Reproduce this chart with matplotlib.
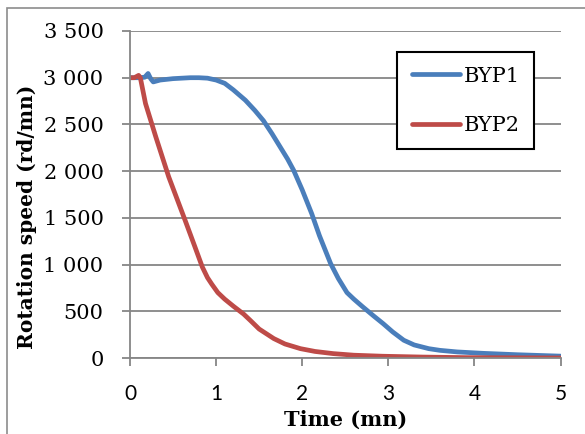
import matplotlib
matplotlib.use("Agg")
import matplotlib.pyplot as plt
from matplotlib.patches import Rectangle

# Data
t_byp1 = [0, 0.1, 0.17, 0.21, 0.24, 0.27, 0.35, 0.5, 0.7, 0.8, 0.9, 1.0, 1.1, 1.2, 1.34,
          1.45, 1.55, 1.65, 1.75, 1.83, 1.9, 2.0, 2.11, 2.2, 2.33, 2.42, 2.52, 2.6, 2.7,
          2.83, 2.94, 3.05, 3.18, 3.3, 3.47, 3.6, 3.8, 4.1, 4.5, 5.0]
v_byp1 = [3000, 3000, 3005, 3045, 2990, 2955, 2975, 2990, 3000, 3000, 2995, 2975, 2940, 2870, 2759,
          2650, 2540, 2400, 2250, 2130, 2010, 1800, 1546, 1310, 1011, 850, 700, 630, 550,
          450, 368, 280, 190, 140, 100, 82, 65, 50, 35, 20]

t_byp2 = [0, 0.05, 0.1, 0.12, 0.18, 0.3, 0.45, 0.64, 0.75, 0.84, 0.9, 0.95, 1.02, 1.1,
          1.2, 1.32, 1.4, 1.5, 1.67, 1.8, 1.98, 2.15, 2.36, 2.6, 2.93, 3.4, 3.9, 4.5, 5.0]
v_byp2 = [3000, 3000, 3025, 3000, 2724, 2366, 1938, 1474, 1200, 974, 860, 790, 700, 630,
          555, 470, 400, 310, 208, 150, 100, 70, 47, 30, 19, 10, 4, 2, 0]

series_names = ["BYP1", "BYP2"]
x_ticks = [0, 1, 2, 3, 4, 5]
y_ticks = [0, 500, 1000, 1500, 2000, 2500, 3000, 3500]
y_tick_labels = ["0", "500", "1 000", "1 500", "2 000", "2 500", "3 000", "3 500"]

W, H = 585, 434
fig = plt.figure(figsize=(W / 100, H / 100), dpi=100)
ax = fig.add_axes([130 / W, (H - 358) / H, 430.5 / W, 327 / H])

grey = "#868686"
blue = "#4A7EBB"
red = "#BE4B48"

ax.plot(t_byp1, v_byp1, color=blue, lw=3.4, label=series_names[0],
        solid_capstyle="round", solid_joinstyle="round")
ax.plot(t_byp2, v_byp2, color=red, lw=3.4, label=series_names[1],
        solid_capstyle="round", solid_joinstyle="round")

ax.set_xlim(0, 5)
ax.set_ylim(0, 3500)
ax.set_xticks(x_ticks)
ax.set_yticks(y_ticks)
ax.set_yticklabels(y_tick_labels, family="DejaVu Serif", fontsize=15)
ax.set_xticklabels([str(v) for v in x_ticks], family="Lato", fontsize=15)
ax.yaxis.grid(True, color=grey, lw=1.3)
ax.set_axisbelow(True)
for s in ["top", "right"]:
    ax.spines[s].set_visible(False)
for s in ["left", "bottom"]:
    ax.spines[s].set_color(grey)
    ax.spines[s].set_linewidth(1.3)
ax.tick_params(axis="y", length=6, width=1.3, color=grey, pad=13)
ax.tick_params(axis="x", length=6, width=1.3, color=grey, pad=13)

ax.set_xlabel("Time (mn)", family="DejaVu Serif", fontweight="bold", fontsize=15, labelpad=0)
ax.set_ylabel("Rotation speed (rd/mn)", family="DejaVu Serif", fontweight="bold", fontsize=14.5)
ax.yaxis.set_label_coords(27 / W, 0.5, transform=fig.transFigure)
ax.xaxis.set_label_coords(0.5 * (130 + 560.5) / W, 1 - 420 / H, transform=fig.transFigure)
ax.xaxis.label.set_va("center")
ax.yaxis.label.set_va("center")

leg = ax.legend(loc="upper left", bbox_to_anchor=(397 / W, 1 - 52 / H),
                bbox_transform=fig.transFigure, borderaxespad=0,
                prop={"family": "DejaVu Serif", "size": 15},
                handlelength=2.3, handletextpad=0.2, labelspacing=1.45,
                borderpad=0.7, fancybox=False, framealpha=1)
leg.get_frame().set_edgecolor("black")
leg.get_frame().set_linewidth(1.5)

fig.patches.append(Rectangle((7 / W, -0.1), 1.2, 1.1 - 8 / H, transform=fig.transFigure,
                             fill=False, edgecolor="#8c8c8c", lw=1.2))

fig.savefig("out.png", dpi=100)
